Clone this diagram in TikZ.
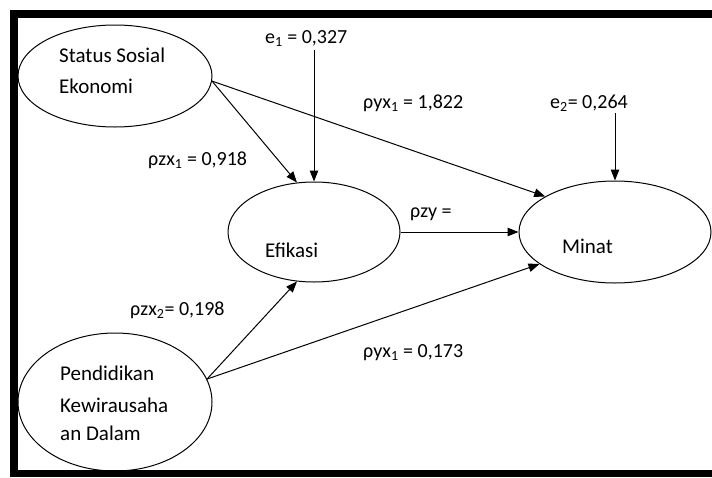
\documentclass[tikz,border=0pt]{standalone}
\usepackage{fontspec}
\setmainfont{Carlito}
\usetikzlibrary{shapes.geometric,arrows.meta}
\begin{document}
\begin{tikzpicture}[x=1pt,y=-1pt,
  ell/.style={draw,ellipse,line width=1pt,inner sep=0pt},
  conn/.style={line width=1pt,-{Triangle[length=11pt,width=8.5pt]}},
  txt/.style={anchor=base west,inner sep=0pt,font=\fontsize{21}{25}\selectfont},
  lbl/.style={anchor=base west,inner sep=0pt,font=\fontsize{20}{24}\selectfont}]
\useasboundingbox (0,0) rectangle (712,477);
\fill[white] (0,0) rectangle (712,477);
% frame
\fill[black] (10,10) rectangle (712,18);
\fill[black] (10,10) rectangle (18,477);
\fill[black] (10,470) rectangle (712,477);
% ellipses
\node[ell,minimum width=194pt,minimum height=102pt] (ss) at (115,76) {};
\node[ell,minimum width=172pt,minimum height=100pt] (ef) at (314,232) {};
\node[ell,minimum width=192pt,minimum height=102pt] (mi) at (615,232) {};
\node[ell,minimum width=194pt,minimum height=138pt] (pk) at (115,402) {};
% node texts
\node[txt] (ss1) at (59,62) {Status Sosial};
\node[txt] (ss2) at (59,93) {Ekonomi};
\node[txt] (pk1) at (60,380) {Pendidikan};
\node[txt] (pk2) at (60,412) {Kewirausaha};
\node[txt] (pk3) at (60,440) {an Dalam};
\node[txt] (eft) at (265,257) {Efikasi};
\node[txt] (mit) at (562,253) {Minat};
% labels
\node[lbl] (l1) at (265,43) {e\textsubscript{1} = 0,327};
\node[lbl] (l2) at (148,165) {ρzx\textsubscript{1} = 0,918};
\node[lbl] (l3) at (363,108) {ρyx\textsubscript{1} = 1,822};
\node[lbl] (l4) at (550,108) {e\textsubscript{2}= 0,264};
\node[lbl] (l5) at (410,217) {ρzy =};
\node[lbl] (l6) at (130,315) {ρzx\textsubscript{2}= 0,198};
\node[lbl] (l7) at (363,357) {ρyx\textsubscript{1} = 0,173};
% error sources
\coordinate (e1) at (314,50);
\coordinate (e2) at (615,113);
% connectors
\draw[conn] (ss.-3) -- (ef.109);
\draw[conn] (e1) -- (ef.north);
\draw[conn] (ss.-3) -- (mi.153);
\draw[conn] (e2) -- (mi.north);
\draw[conn] (ef.east) -- (mi.west);
\draw[conn] (pk.14) -- (ef.251);
\draw[conn] (pk.14) -- (mi.203);
\end{tikzpicture}
\end{document}
